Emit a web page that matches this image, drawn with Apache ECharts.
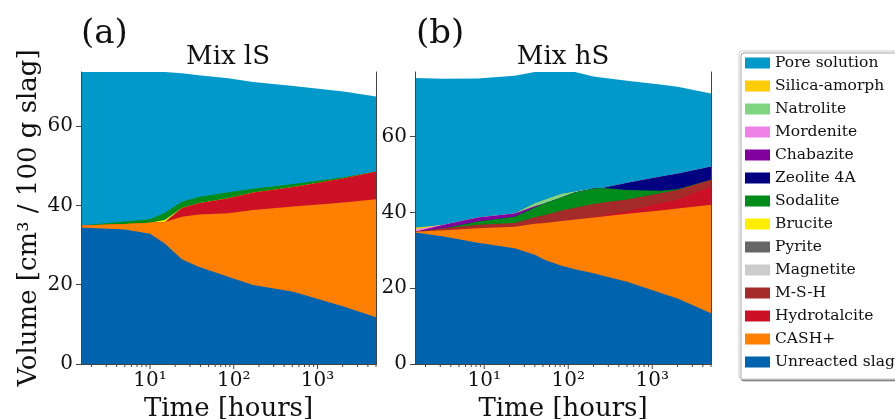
<!DOCTYPE html>
<html>
<head>
<meta charset="utf-8">
<script src="https://cdn.jsdelivr.net/npm/echarts@6/dist/echarts.min.js"></script>
<style>
  html, body { margin: 0; padding: 0; background: #fff; }
  #chart { width: 895px; height: 419px; }
</style>
</head>
<body>
<div id="chart"></div>
<script>
// Phase names, legend order (top of stack first)
const PHASES = ['Pore solution', 'Silica-amorph', 'Natrolite', 'Mordenite', 'Chabazite',
  'Zeolite 4A', 'Sodalite', 'Brucite', 'Pyrite', 'Magnetite', 'M-S-H', 'Hydrotalcite',
  'CASH+', 'Unreacted slag'];

// Time axis ticks [hours]
const X_TICK_VALUES = [10, 100, 1000];
const X_TICK_LABELS = ['10¹', '10²', '10³'];
const X_MINOR_TICKS = [2, 3, 4, 5, 6, 7, 8, 9, 20, 30, 40, 50, 60, 70, 80, 90,
  200, 300, 400, 500, 600, 700, 800, 900, 2000, 3000, 4000, 5000];
const Y_TICK_VALUES = [0, 20, 40, 60];
const TIME_MIN = 1.5, TIME_MAX = 5000;

// ---- Mix lS : volumes in cm3 / 100 g slag ----
const TIME_A          = [1.5, 5, 10, 15, 24, 38, 86, 170, 515, 2050, 5000];
const A_SLAG          = [34.4, 33.9, 32.8, 30.4, 26.4, 24.5, 22.0, 19.9, 18.2, 14.5, 11.8];
const A_CASH          = [0.5, 1.4, 2.8, 5.4, 10.7, 13.2, 16.0, 18.9, 21.5, 26.2, 29.7];
const A_HYDROTALCITE  = [0, 0, 0, 0, 2.2, 2.8, 3.8, 4.4, 4.9, 6.1, 7.0];
const A_MSH           = [0, 0, 0, 0, 0, 0, 0, 0, 0, 0, 0];
const A_MAGNETITE     = [0, 0, 0, 0, 0, 0, 0, 0, 0, 0, 0];
const A_PYRITE        = [0, 0, 0, 0, 0, 0, 0, 0, 0, 0, 0];
const A_BRUCITE       = [0, 0, 0, 0.5, 0, 0, 0, 0, 0, 0, 0];
const A_SODALITE      = [0, 0.6, 0.9, 1.8, 1.6, 1.6, 1.5, 1.0, 0.8, 0.3, 0];
const A_ZEOLITE4A     = [0, 0, 0, 0, 0, 0, 0, 0, 0, 0, 0];
const A_CHABAZITE     = [0, 0, 0, 0, 0, 0, 0, 0, 0, 0, 0];
const A_MORDENITE     = [0, 0, 0, 0, 0, 0, 0, 0, 0, 0, 0];
const A_NATROLITE     = [0, 0, 0, 0, 0, 0, 0, 0, 0, 0, 0];
const A_SILICA        = [0, 0, 0, 0, 0, 0, 0, 0, 0, 0, 0];
const A_PORE          = [38.7, 37.7, 37.1, 35.5, 32.4, 30.7, 28.7, 26.9, 24.7, 21.6, 18.9];

// ---- Mix hS ----
const TIME_B          = [1.5, 3.3, 8.4, 23, 40, 53, 83, 120, 200, 260, 500, 1240, 2000, 5000];
const B_SLAG          = [34.7, 33.6, 32.0, 30.5, 28.8, 27.4, 25.9, 25.0, 23.9, 23.3, 21.7, 18.8, 17.3, 13.4];
const B_CASH          = [0.15, 1.7, 3.8, 5.7, 8.2, 9.8, 11.8, 13.1, 14.7, 15.6, 17.9, 21.7, 23.7, 28.6];
const B_HYDROTALCITE  = [0, 0, 0, 0, 0, 0, 0, 0, 0.1, 0.2, 0.6, 1.9, 2.3, 4.8];
const B_MSH           = [0, 0.5, 0.9, 1.0, 1.7, 2.1, 2.8, 3.1, 3.5, 3.5, 3.2, 2.6, 2.6, 1.8];
const B_MAGNETITE     = [0, 0, 0, 0, 0, 0, 0, 0, 0, 0, 0, 0, 0, 0];
const B_PYRITE        = [0, 0, 0, 0, 0, 0, 0, 0, 0, 0, 0, 0, 0, 0];
const B_BRUCITE       = [0, 0, 0, 0, 0, 0, 0, 0, 0, 0, 0, 0, 0, 0];
const B_SODALITE      = [0, 0, 0.9, 1.6, 2.6, 3.1, 3.4, 4.0, 4.1, 3.8, 2.5, 0.7, 0.2, 0];
const B_ZEOLITE4A     = [0, 0, 0, 0, 0, 0, 0, 0, 0, 0, 1.8, 3.7, 4.1, 3.4];
const B_CHABAZITE     = [0, 0.9, 1.0, 0.9, 0.3, 0, 0, 0, 0, 0, 0, 0, 0, 0];
const B_MORDENITE     = [0.65, 0, 0, 0, 0, 0, 0, 0, 0, 0, 0, 0, 0, 0];
const B_NATROLITE     = [0, 0, 0, 0, 0.7, 0.9, 0.9, 0.2, 0, 0, 0, 0, 0, 0];
const B_SILICA        = [0.4, 0, 0, 0, 0, 0, 0, 0, 0, 0, 0, 0, 0, 0];
const B_PORE          = [39.5, 38.5, 36.7, 36.3, 34.7, 33.7, 32.2, 31.6, 29.5, 29.1, 27.0, 24.3, 22.9, 19.3];

const Y_MAX_A = 73.6, Y_MAX_B = 77.0;

const COLORS = {
  'Pore solution': '#0099c9',
  'Silica-amorph': '#ffcc00',
  'Natrolite': '#80d680',
  'Mordenite': '#ee82e6',
  'Chabazite': '#80009e',
  'Zeolite 4A': '#000080',
  'Sodalite': '#008c1a',
  'Brucite': '#ffee00',
  'Pyrite': '#666666',
  'Magnetite': '#cccccc',
  'M-S-H': '#a52a2a',
  'Hydrotalcite': '#cc1126',
  'CASH+': '#ff7f00',
  'Unreacted slag': '#0063ae'
};

// bottom-to-top stacking order
const STACK_A = [
  ['Unreacted slag', A_SLAG], ['CASH+', A_CASH], ['Hydrotalcite', A_HYDROTALCITE],
  ['M-S-H', A_MSH], ['Magnetite', A_MAGNETITE], ['Pyrite', A_PYRITE], ['Brucite', A_BRUCITE],
  ['Sodalite', A_SODALITE], ['Zeolite 4A', A_ZEOLITE4A], ['Chabazite', A_CHABAZITE],
  ['Mordenite', A_MORDENITE], ['Natrolite', A_NATROLITE], ['Silica-amorph', A_SILICA],
  ['Pore solution', A_PORE]
];
const STACK_B = [
  ['Unreacted slag', B_SLAG], ['CASH+', B_CASH], ['Hydrotalcite', B_HYDROTALCITE],
  ['M-S-H', B_MSH], ['Magnetite', B_MAGNETITE], ['Pyrite', B_PYRITE], ['Brucite', B_BRUCITE],
  ['Sodalite', B_SODALITE], ['Zeolite 4A', B_ZEOLITE4A], ['Chabazite', B_CHABAZITE],
  ['Mordenite', B_MORDENITE], ['Natrolite', B_NATROLITE], ['Silica-amorph', B_SILICA],
  ['Pore solution', B_PORE]
];

const FONT = 'DejaVu Serif';
const INK = '#111';
const SPINE = '#444';

// Each layer is filled from 0 up to its running total; layers are painted
// from the top of the stack downwards so every lower layer covers the ones above.
function areaSeries(stack, times, idx) {
  const running = times.map(() => 0);
  const layers = stack.map(([name, vals]) => {
    const top = vals.map((v, i) => (running[i] += v));
    const empty = vals.every(v => v === 0);
    return {
      name: name,
      type: 'line',
      xAxisIndex: idx,
      yAxisIndex: idx,
      data: empty ? [] : times.map((t, i) => [t, top[i]]),
      showSymbol: false,
      symbol: 'none',
      silent: true,
      color: COLORS[name],
      itemStyle: { color: COLORS[name] },
      lineStyle: { width: 0, opacity: 0 },
      areaStyle: { color: COLORS[name], opacity: 1, origin: 'start' },
      z: 2
    };
  });
  return layers.reverse();
}

function tickSeries(idx) {
  const ticks = X_TICK_VALUES.map(v => [v, 5]).concat(X_MINOR_TICKS.map(v => [v, 3]));
  return {
    type: 'custom',
    xAxisIndex: idx,
    yAxisIndex: idx,
    silent: true,
    clip: false,
    z: 20,
    data: ticks,
    renderItem: function (params, api) {
      const p = api.coord([api.value(0), 0]);
      const len = api.value(1);
      return {
        type: 'line',
        shape: { x1: p[0], y1: p[1], x2: p[0], y2: p[1] + len },
        style: { stroke: SPINE, lineWidth: 1 }
      };
    }
  };
}

function xAxisBottom(idx) {
  return {
    type: 'log', gridIndex: idx, logBase: 10, min: TIME_MIN, max: TIME_MAX,
    position: 'bottom', z: 10,
    name: 'Time [hours]', nameLocation: 'middle', nameGap: 24,
    nameTextStyle: { fontFamily: FONT, fontSize: 26, color: INK },
    axisLine: { show: true, lineStyle: { color: SPINE, width: 1 } },
    axisTick: { show: false },
    splitLine: { show: false },
    minorTick: { show: false },
    axisLabel: {
      fontFamily: FONT, fontSize: 20, color: INK, margin: 7,
      showMinLabel: false, showMaxLabel: false,
      formatter: function (v) {
        for (let i = 0; i < X_TICK_VALUES.length; i++) {
          if (Math.abs(v - X_TICK_VALUES[i]) / X_TICK_VALUES[i] < 1e-6) return X_TICK_LABELS[i];
        }
        return '';
      }
    }
  };
}

function xAxisTop(idx) {
  return {
    type: 'log', gridIndex: idx, logBase: 10, min: TIME_MIN, max: TIME_MAX,
    position: 'top', z: 10,
    axisLine: { show: true, lineStyle: { color: SPINE, width: 1 } },
    axisTick: { show: false }, axisLabel: { show: false }, splitLine: { show: false }
  };
}

function yAxisLeft(idx, maxV, withName) {
  return {
    type: 'value', gridIndex: idx, min: 0, max: maxV, interval: 20,
    position: 'left', z: 10,
    name: withName ? 'Volume [cm³ / 100 g slag]' : '',
    nameLocation: 'middle', nameRotate: 90, nameGap: 39,
    nameTextStyle: { fontFamily: FONT, fontSize: 26, color: INK },
    axisLine: { show: true, lineStyle: { color: SPINE, width: 1 } },
    axisTick: { show: true, length: 5, lineStyle: { color: SPINE }, customValues: Y_TICK_VALUES },
    splitLine: { show: false },
    axisLabel: {
      fontFamily: FONT, fontSize: 20, color: INK, margin: 8,
      customValues: Y_TICK_VALUES
    }
  };
}

function yAxisRight(idx, maxV) {
  return {
    type: 'value', gridIndex: idx, min: 0, max: maxV, interval: 20,
    position: 'right', z: 10,
    axisLine: { show: true, lineStyle: { color: SPINE, width: 1 } },
    axisTick: { show: false }, axisLabel: { show: false }, splitLine: { show: false }
  };
}

const chart = echarts.init(document.getElementById('chart'), null, { renderer: 'canvas' });

const panelLetter = { fontFamily: FONT, fontSize: 34, fontWeight: 'normal', color: INK };
const panelTitle = { fontFamily: FONT, fontSize: 26, fontWeight: 'normal', color: INK };

chart.setOption({
  animation: false,
  backgroundColor: '#fff',
  title: [
    { text: '(a)', left: 81, top: 17, padding: 0, textStyle: panelLetter },
    { text: 'Mix lS', left: 228, top: 44, padding: 0, textAlign: 'center', textStyle: panelTitle },
    { text: '(b)', left: 416, top: 17, padding: 0, textStyle: panelLetter },
    { text: 'Mix hS', left: 563, top: 44, padding: 0, textAlign: 'center', textStyle: panelTitle }
  ],
  legend: {
    data: PHASES,
    orient: 'vertical',
    left: 739, top: 51,
    icon: 'rect',
    itemWidth: 25, itemHeight: 11, itemGap: 7,
    selectedMode: false,
    padding: [4, 6, 9, 6],
    backgroundColor: '#fff',
    borderColor: '#cccccc', borderWidth: 1, borderRadius: 3,
    shadowColor: 'rgba(0,0,0,0.35)', shadowOffsetX: 2, shadowOffsetY: 2, shadowBlur: 0,
    textStyle: { fontFamily: FONT, fontSize: 15.5, color: INK, lineHeight: 16 }
  },
  grid: [
    { left: 81, top: 72, width: 295, height: 292, containLabel: false, outerBoundsMode: 'none' },
    { left: 415, top: 72, width: 296, height: 292, containLabel: false, outerBoundsMode: 'none' }
  ],
  xAxis: [xAxisBottom(0), xAxisBottom(1), xAxisTop(0), xAxisTop(1)],
  yAxis: [yAxisLeft(0, Y_MAX_A, true), yAxisLeft(1, Y_MAX_B, false), yAxisRight(0, Y_MAX_A), yAxisRight(1, Y_MAX_B)],
  series: []
    .concat(areaSeries(STACK_A, TIME_A, 0))
    .concat(areaSeries(STACK_B, TIME_B, 1))
    .concat([tickSeries(0), tickSeries(1)])
});
</script>
</body>
</html>
